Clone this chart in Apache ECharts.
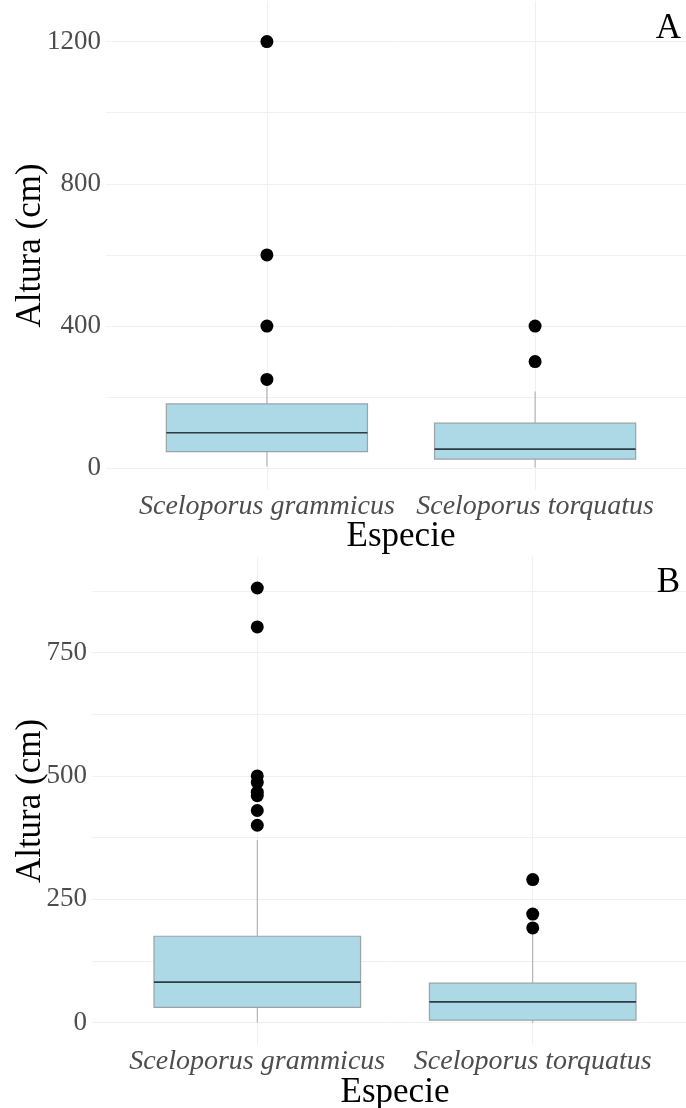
<!DOCTYPE html>
<html>
<head>
<meta charset="utf-8">
<script src="https://cdn.jsdelivr.net/npm/echarts@6/dist/echarts.min.js"></script>
<style>
  html, body { margin: 0; padding: 0; background: #ffffff; }
  #chart { width: 686px; height: 1108px; }
</style>
</head>
<body>
<div id="chart"></div>
<script>
// Species on the x axis (positions 1 and 2)
const species = ['Sceloporus grammicus', 'Sceloporus torquatus'];

// Panel A — box statistics: [lower whisker, Q1, median, Q3, upper whisker]
const statsA_grammicus = [5, 47, 100, 181, 230];
const statsA_torquatus = [2, 26, 54, 127, 216];
const outliersA_grammicus = [250, 400, 600, 1200];
const outliersA_torquatus = [300, 400];

// Panel B — box statistics
const statsB_grammicus = [0, 31, 82, 175, 370];
const statsB_torquatus = [0, 5, 42, 80, 180];
const outliersB_grammicus = [400, 430, 460, 467, 487, 500, 802, 881];
const outliersB_torquatus = [192, 220, 290];

// Axis breaks
const labelsA = [0, 400, 800, 1200];
const gridA = [0, 200, 400, 600, 800, 1000, 1200];
const labelsB = [0, 250, 500, 750];
const gridB = [0, 125, 250, 375, 500, 625, 750, 875];

const FONT = 'Liberation Serif';
const GRID_COLOR = '#f0f0f0';

function boxRows(a, b) {
  return [[1].concat(a), [2].concat(b)];
}
function pointRows(a, b) {
  return a.map(v => [1, v]).concat(b.map(v => [2, v]));
}

// ggplot-style box: whiskers without caps, filled box, dark median bar
function renderBox(params, api) {
  const x = api.value(0);
  const pLo = api.coord([x, api.value(1)]);
  const pQ1 = api.coord([x, api.value(2)]);
  const pMed = api.coord([x, api.value(3)]);
  const pQ3 = api.coord([x, api.value(4)]);
  const pHi = api.coord([x, api.value(5)]);
  const half = api.size([0.75, 0])[0] / 2;
  const whisker = { stroke: '#a8a8a8', lineWidth: 1 };
  return {
    type: 'group',
    children: [
      { type: 'line', shape: { x1: pLo[0], y1: pLo[1], x2: pQ1[0], y2: pQ1[1] }, style: whisker },
      { type: 'line', shape: { x1: pQ3[0], y1: pQ3[1], x2: pHi[0], y2: pHi[1] }, style: whisker },
      { type: 'rect', shape: { x: pQ1[0] - half, y: pQ3[1], width: half * 2, height: pQ1[1] - pQ3[1] },
        style: { fill: '#ADD8E6', stroke: '#9aa4a8', lineWidth: 1.2 } },
      { type: 'line', shape: { x1: pMed[0] - half, y1: pMed[1], x2: pMed[0] + half, y2: pMed[1] },
        style: { stroke: '#2e3d42', lineWidth: 1.6 } }
    ]
  };
}

function xAxisFor(gridIndex, nameGap) {
  return {
    type: 'value', gridIndex: gridIndex, min: 0.4, max: 2.6,
    name: 'Especie', nameLocation: 'middle', nameGap: nameGap, nameMoveOverlap: false,
    nameTextStyle: { fontFamily: FONT, fontSize: 35, color: '#000' },
    axisLine: { show: false, onZero: false },
    axisTick: { show: false, customValues: [1, 2] },
    axisLabel: {
      customValues: [1, 2], margin: 3,
      formatter: v => species[Math.round(v) - 1],
      fontFamily: FONT, fontStyle: 'italic', fontSize: 28, color: '#4d4d4d'
    },
    splitLine: { show: true, lineStyle: { color: GRID_COLOR, width: 1 } }
  };
}

function yAxisFor(gridIndex, min, max, labels, lines, nameGap) {
  return {
    type: 'value', gridIndex: gridIndex, min: min, max: max,
    name: 'Altura (cm)', nameLocation: 'middle', nameGap: nameGap, nameRotate: 90, nameMoveOverlap: false,
    nameTextStyle: { fontFamily: FONT, fontSize: 35, color: '#000' },
    axisLine: { show: false },
    axisTick: { show: false, customValues: lines },
    axisLabel: {
      customValues: labels, margin: 5,
      formatter: v => String(v),
      fontFamily: FONT, fontSize: 27, color: '#4d4d4d'
    },
    splitLine: { show: true, lineStyle: { color: GRID_COLOR, width: 1 } }
  };
}

const chart = echarts.init(document.getElementById('chart'), null, { renderer: 'canvas' });

chart.setOption({
  backgroundColor: '#ffffff',
  animation: false,
  title: [
    { text: 'A', right: 0, top: 6, textStyle: { fontFamily: FONT, fontSize: 35, fontWeight: 'normal', color: '#000' } },
    { text: 'B', right: 1, top: 560, textStyle: { fontFamily: FONT, fontSize: 35, fontWeight: 'normal', color: '#000' } }
  ],
  grid: [
    { left: 106, right: -10, top: 1, height: 489, containLabel: false, outerBoundsMode: 'none' },
    { left: 92, right: -12, top: 557, height: 488, containLabel: false, outerBoundsMode: 'none' }
  ],
  xAxis: [xAxisFor(0, 29), xAxisFor(1, 30)],
  yAxis: [
    yAxisFor(0, -61, 1314, labelsA, gridA, 58),
    yAxisFor(1, -45.4, 943.8, labelsB, gridB, 44)
  ],
  series: [
    {
      type: 'custom', xAxisIndex: 0, yAxisIndex: 0, renderItem: renderBox,
      data: boxRows(statsA_grammicus, statsA_torquatus), silent: true, z: 2
    },
    {
      type: 'scatter', xAxisIndex: 0, yAxisIndex: 0, symbolSize: 13,
      itemStyle: { color: '#000', opacity: 1 }, data: pointRows(outliersA_grammicus, outliersA_torquatus), z: 3
    },
    {
      type: 'custom', xAxisIndex: 1, yAxisIndex: 1, renderItem: renderBox,
      data: boxRows(statsB_grammicus, statsB_torquatus), silent: true, z: 2
    },
    {
      type: 'scatter', xAxisIndex: 1, yAxisIndex: 1, symbolSize: 13,
      itemStyle: { color: '#000', opacity: 1 }, data: pointRows(outliersB_grammicus, outliersB_torquatus), z: 3
    }
  ]
});
</script>
</body>
</html>
